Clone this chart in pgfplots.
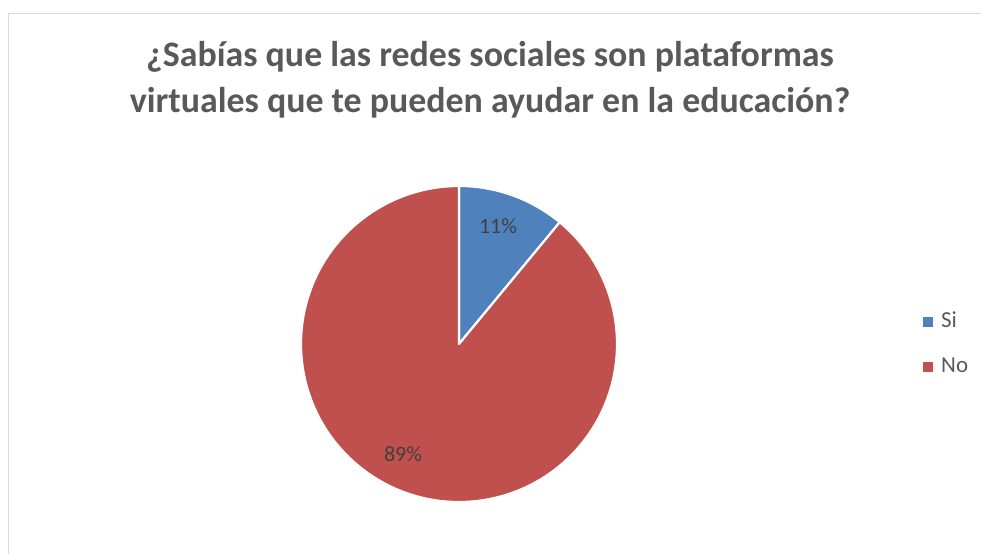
\documentclass[border=0pt]{standalone}
\usepackage{pgfplots}
\usepackage{pgfplotstable}
\pgfplotsset{compat=1.18}
\usepackage{fontspec}
\setmainfont{Carlito}
\definecolor{siblue}{HTML}{4F81BD}
\definecolor{nored}{HTML}{C0504D}
\definecolor{titlegray}{HTML}{595959}
\definecolor{labgray}{HTML}{404040}
\definecolor{framegray}{HTML}{D9D9D9}
\pgfplotstableread{
label value
Si 11
No 89
}\piedata
\begin{document}
\begin{tikzpicture}
\pgfplotstablegetelem{0}{value}\of\piedata\edef\vSi{\pgfplotsretval}
\pgfplotstablegetelem{1}{value}\of\piedata\edef\vNo{\pgfplotsretval}
\pgfmathsetmacro{\aSi}{360*\vSi/(\vSi+\vNo)}
\begin{axis}[
  scale only axis, width=981bp, height=554bp,
  xmin=0, xmax=981, ymin=0, ymax=554, y dir=reverse,
  hide axis, clip=false,
  legend style={draw=none, fill=none, inner sep=0pt, outer sep=0pt,
    at={(axis cs:923,344.5)}, anchor=west,
    font=\fontsize{23}{27}\selectfont, text=titlegray,
    legend cell align=left,
    nodes={inner sep=0pt, text height=13bp, text depth=3bp},
    row sep=29bp},
  legend image code/.code={\fill[#1] (0bp,-4.5bp) rectangle (9bp,4.5bp);
     \path[draw=none, fill=none] (0bp,0bp) -- (18bp,0bp);},
]
% frame
\draw[framegray, line width=1.2bp] (axis cs:8.5,554) -- (axis cs:8.5,13.5) -- (axis cs:981,13.5);
% slices: Si clockwise from top
\fill[siblue, draw=white, line width=2.2bp, line join=round]
  (axis cs:459,344) -- ++(90:158bp) arc[start angle=90, end angle={90-\aSi}, radius=158bp] -- cycle;
\fill[nored, draw=white, line width=2.2bp, line join=round]
  (axis cs:459,344) -- ++({90-\aSi}:158bp) arc[start angle={90-\aSi}, end angle=-270, radius=158bp] -- cycle;
\addlegendimage{siblue}
\addlegendentry{Si}
\addlegendimage{nored}
\addlegendentry{No}
% labels
\node[font=\fontsize{22}{26}\selectfont, text=labgray] at (axis cs:498,226) {\vSi\%};
\node[font=\fontsize{22}{26}\selectfont, text=labgray] at (axis cs:403,454) {\vNo\%};
% title
\node[font=\bfseries\fontsize{36}{46}\selectfont, text=titlegray, align=center] at (axis cs:490,80)
 {¿Sabías que las redes sociales son plataformas\\virtuales que te pueden ayudar en la educación?};
\end{axis}
\pgfresetboundingbox
\useasboundingbox (0,0) rectangle (981bp,554bp);
\end{tikzpicture}
\end{document}
